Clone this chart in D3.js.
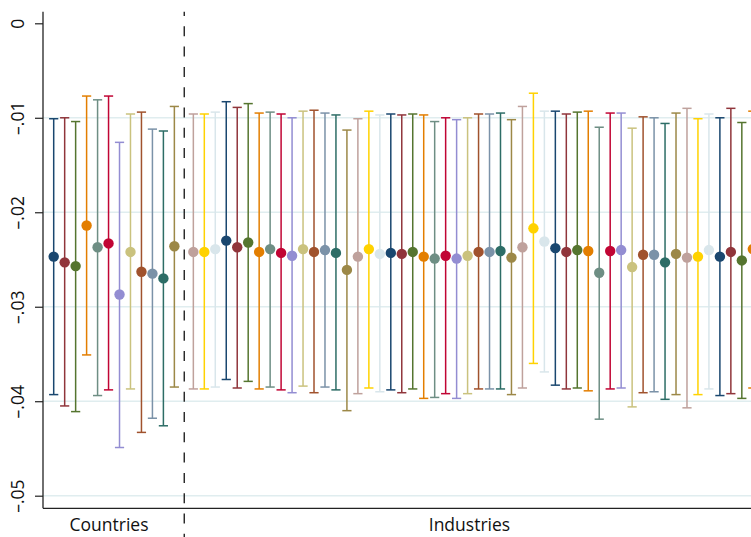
<!DOCTYPE html>
<html>
<head>
<meta charset="utf-8">
<script src="https://cdn.jsdelivr.net/npm/d3@7"></script>
<style>
  html, body { margin: 0; padding: 0; background: #fff; }
  svg { display: block; }
  text { font-family: "Open Sans", "Noto Sans", sans-serif; }
</style>
</head>
<body>
<svg id="chart" width="751" height="537"></svg>
<script>
// ---- data ----
const groups = ["Countries", "Industries"];
const nCountries = 12;
const nIndustries = 52;

const estimates = [
  -0.0247, -0.0253, -0.0257, -0.0214, -0.0237, -0.0233, -0.0287, -0.0242, -0.0263, -0.0265, -0.0270, -0.0236,
  -0.0242, -0.0242, -0.0239, -0.0230, -0.0237, -0.0232, -0.0242, -0.0239, -0.0243, -0.0246, -0.0239, -0.0242,
  -0.0240, -0.0243, -0.0261, -0.0247, -0.0239, -0.0244, -0.0243, -0.0244, -0.0242, -0.0247, -0.0249, -0.0246,
  -0.0249, -0.0246, -0.0242, -0.0242, -0.0241, -0.0248, -0.0237, -0.0217, -0.0231, -0.0238, -0.0242, -0.0240,
  -0.0241, -0.0264, -0.0241, -0.0240, -0.0258, -0.0245, -0.0245, -0.0253, -0.0244, -0.0248, -0.0247, -0.0240,
  -0.0247, -0.0242, -0.0251, -0.0239
];
const upper = [
  -0.0101, -0.0100, -0.0104, -0.0077, -0.0081, -0.0077, -0.0126, -0.0096, -0.0094, -0.0112, -0.0114, -0.0088,
  -0.0096, -0.0096, -0.0094, -0.0083, -0.0089, -0.0085, -0.0095, -0.0094, -0.0096, -0.0100, -0.0093, -0.0092,
  -0.0095, -0.0097, -0.0113, -0.0101, -0.0093, -0.0097, -0.0096, -0.0097, -0.0096, -0.0097, -0.0104, -0.0100,
  -0.0102, -0.0100, -0.0096, -0.0096, -0.0095, -0.0102, -0.0088, -0.0074, -0.0093, -0.0093, -0.0096, -0.0094,
  -0.0093, -0.0110, -0.0095, -0.0095, -0.0111, -0.0099, -0.0100, -0.0106, -0.0095, -0.0090, -0.0101, -0.0096,
  -0.0100, -0.0090, -0.0105, -0.0093
];
const lower = [
  -0.0393, -0.0405, -0.0411, -0.0351, -0.0394, -0.0388, -0.0449, -0.0387, -0.0433, -0.0418, -0.0426, -0.0385,
  -0.0387, -0.0387, -0.0385, -0.0377, -0.0386, -0.0379, -0.0387, -0.0385, -0.0388, -0.0391, -0.0384, -0.0391,
  -0.0385, -0.0388, -0.0410, -0.0392, -0.0386, -0.0390, -0.0388, -0.0391, -0.0387, -0.0397, -0.0396, -0.0392,
  -0.0397, -0.0392, -0.0387, -0.0387, -0.0387, -0.0393, -0.0386, -0.0360, -0.0369, -0.0383, -0.0387, -0.0386,
  -0.0389, -0.0419, -0.0387, -0.0386, -0.0406, -0.0391, -0.0390, -0.0398, -0.0393, -0.0407, -0.0393, -0.0387,
  -0.0394, -0.0392, -0.0397, -0.0386
];
const yTicks = [0, -0.01, -0.02, -0.03, -0.04, -0.05];
const yTickLabels = ["0", "\u2013.01", "\u2013.02", "\u2013.03", "\u2013.04", "\u2013.05"];

// Stata s2color palette
const palette = ["#1a476f", "#90353b", "#55752f", "#e37e00", "#6e8e84", "#c10534", "#938dd2",
  "#cac27e", "#a0522d", "#7b92a8", "#2d6d66", "#9c8847", "#bfa19c", "#ffd200", "#d9e6eb"];

// ---- layout ----
const svg = d3.select("#chart");
const W = 751, H = 537;
const axisX = 43, axisTop = 11.7, axisBottom = 508.3;
const gap = 0.73;
const slot = i => (i < nCountries ? i : i + gap);

const x = d3.scaleLinear().domain([0, 63.73]).range([53.7, 752.8]);
const y = d3.scaleLinear().domain([-0.05, 0]).range([495.7, 23.3]);

const data = estimates.map((v, i) => ({ i, v, hi: upper[i], lo: lower[i], c: palette[i % palette.length] }));

// gridlines
svg.append("g").selectAll("line").data(yTicks.filter(t => t !== 0)).join("line")
  .attr("x1", axisX).attr("x2", W)
  .attr("y1", d => y(d)).attr("y2", d => y(d))
  .attr("stroke", "#e0edef").attr("stroke-width", 1.5);

// dashed separator
svg.append("line")
  .attr("x1", x(11.9)).attr("x2", x(11.9))
  .attr("y1", axisTop).attr("y2", H)
  .attr("stroke", "#111").attr("stroke-width", 1.3)
  .attr("stroke-dasharray", "10,10.3")
  .attr("stroke-dashoffset", 5.7);

// error bars
const eb = svg.append("g");
const capW = 4.6;
eb.selectAll("line.v").data(data).join("line").attr("class", "v")
  .attr("x1", d => x(slot(d.i))).attr("x2", d => x(slot(d.i)))
  .attr("y1", d => y(d.hi)).attr("y2", d => y(d.lo))
  .attr("stroke", d => d.c).attr("stroke-width", 1.5);
eb.selectAll("line.ct").data(data).join("line").attr("class", "ct")
  .attr("x1", d => x(slot(d.i)) - capW).attr("x2", d => x(slot(d.i)) + capW)
  .attr("y1", d => y(d.hi)).attr("y2", d => y(d.hi))
  .attr("stroke", d => d.c).attr("stroke-width", 1.5);
eb.selectAll("line.cb").data(data).join("line").attr("class", "cb")
  .attr("x1", d => x(slot(d.i)) - capW).attr("x2", d => x(slot(d.i)) + capW)
  .attr("y1", d => y(d.lo)).attr("y2", d => y(d.lo))
  .attr("stroke", d => d.c).attr("stroke-width", 1.5);

// points
svg.append("g").selectAll("circle").data(data).join("circle")
  .attr("cx", d => x(slot(d.i))).attr("cy", d => y(d.v))
  .attr("r", 5.2).attr("fill", d => d.c);

// y axis
const yAxis = d3.axisLeft(y).tickValues(yTicks)
  .tickFormat((d, k) => yTickLabels[k]).tickSize(8).tickPadding(12);
const gy = svg.append("g").attr("transform", `translate(${axisX},0)`).call(yAxis);
gy.select(".domain").remove();
gy.selectAll(".tick line").attr("stroke", "#222").attr("stroke-width", 1.2);
gy.selectAll(".tick text")
  .attr("x", null).attr("dy", null)
  .attr("transform", "translate(-19.5,0) rotate(-90)")
  .attr("text-anchor", "middle")
  .attr("font-size", 17.5).attr("fill", "#111")
  .style("font-family", '"Open Sans", sans-serif');

svg.append("line").attr("x1", axisX).attr("x2", axisX).attr("y1", axisTop).attr("y2", axisBottom)
  .attr("stroke", "#222").attr("stroke-width", 1.3);
svg.append("line").attr("x1", axisX).attr("x2", W).attr("y1", axisBottom).attr("y2", axisBottom)
  .attr("stroke", "#222").attr("stroke-width", 1.3);

// group labels
const labelSlots = [5.04, 37.9];
svg.append("g").selectAll("text").data(groups).join("text")
  .attr("x", (d, k) => x(labelSlots[k])).attr("y", 531)
  .attr("text-anchor", "middle").attr("font-size", 17.5).attr("fill", "#111")
  .text(d => d);
</script>
</body>
</html>
